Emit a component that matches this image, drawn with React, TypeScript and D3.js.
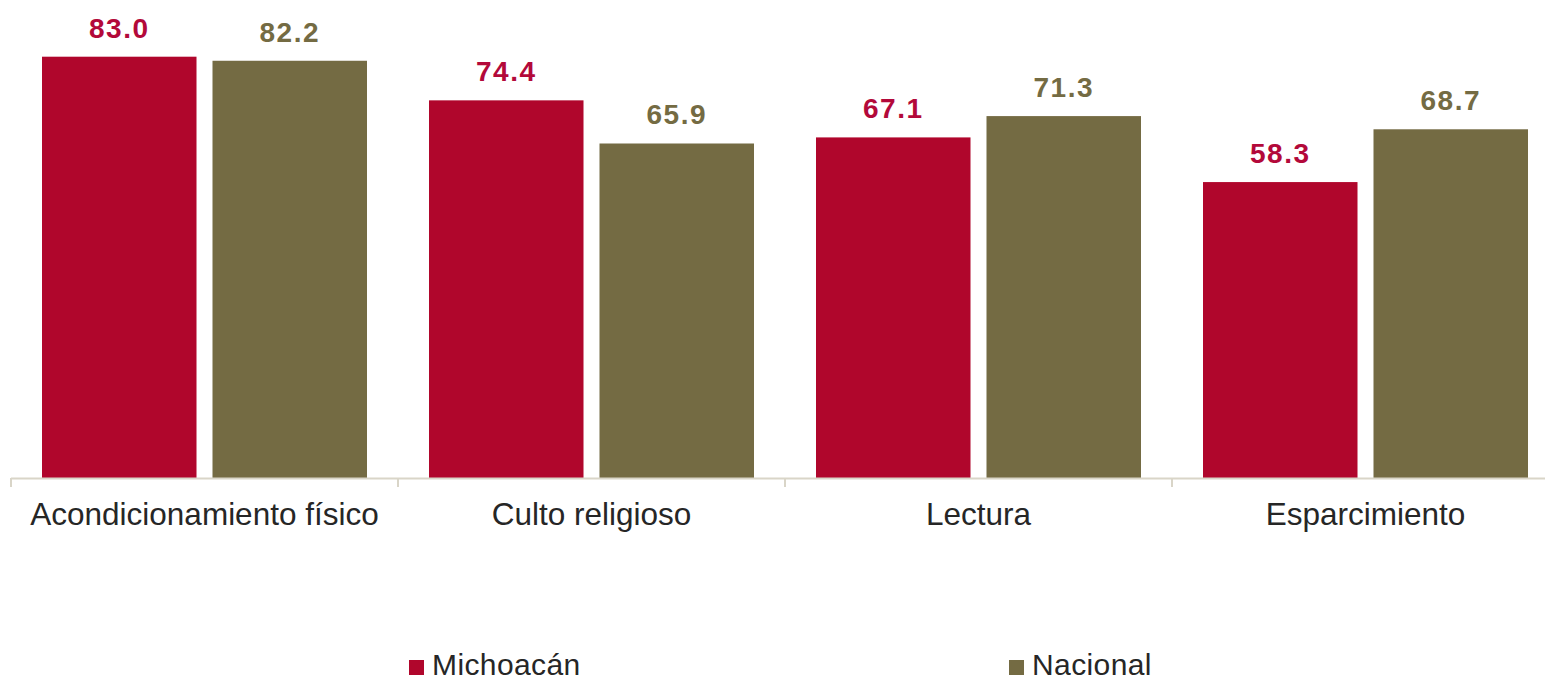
import React from "react";
import * as d3 from "d3";

const categories = ["Acondicionamiento físico", "Culto religioso", "Lectura", "Esparcimiento"];
const seriesNames = ["Michoacán", "Nacional"];
const michoacan = [83.0, 74.4, 67.1, 58.3];
const nacional = [82.2, 65.9, 71.3, 68.7];
const colors = ["#B0062C", "#746B43"];
const labelColors = ["#B3093A", "#746B43"];

const W = 1545;
const H = 682;
const FONT = "'Liberation Sans', Arial, sans-serif";

export default function App() {
  const baseY = 478;
  const x = d3.scaleBand<string>().domain(categories).range([11, 11 + 387 * 4]).padding(0);
  const xi = d3.scaleBand<string>().domain(seriesNames).range([31, 356]).paddingInner(0.0938).paddingOuter(0);
  const y = d3.scaleLinear().domain([0, 83]).range([baseY, 56.7]);
  const values = [michoacan, nacional];

  const tickXs = d3.range(categories.length + 1).map((i) => 11 + i * x.step());

  return (
    <svg
      width={W}
      height={H}
      style={{ position: "absolute", left: 0, top: 0, background: "#fff" }}
      fontFamily={FONT}
    >
      {categories.map((c, ci) => (
        <g key={c}>
          {seriesNames.map((s, si) => {
            const v = values[si][ci];
            const bx = (x(c) as number) + (xi(s) as number);
            return (
              <g key={s}>
                <rect x={bx} y={y(v)} width={xi.bandwidth()} height={baseY - y(v)} fill={colors[si]} />
                <text
                  x={bx + xi.bandwidth() / 2}
                  y={y(v) - 19}
                  textAnchor="middle"
                  fontSize={28}
                  letterSpacing={1.5}
                  fontWeight="bold"
                  fill={labelColors[si]}
                >
                  {v.toFixed(1)}
                </text>
              </g>
            );
          })}
          <text
            x={(x(c) as number) + x.bandwidth() / 2}
            y={525}
            textAnchor="middle"
            fontSize={31.5}
            fill="#262626"
          >
            {c}
          </text>
        </g>
      ))}
      <line x1={11} x2={W} y1={baseY + 0.5} y2={baseY + 0.5} stroke="#D9D5C8" strokeWidth={2} />
      {tickXs.map((tx, i) => (
        <line key={i} x1={tx} x2={tx} y1={baseY} y2={baseY + 9} stroke="#D9D5C8" strokeWidth={2} />
      ))}
      {seriesNames.map((s, si) => {
        const lx = [409, 1009][si];
        return (
          <g key={s}>
            <rect x={lx} y={660} width={15} height={15} fill={colors[si]} />
            <text x={lx + 23} y={675} fontSize={30} letterSpacing={0.4} fill="#262626">
              {s}
            </text>
          </g>
        );
      })}
    </svg>
  );
}
